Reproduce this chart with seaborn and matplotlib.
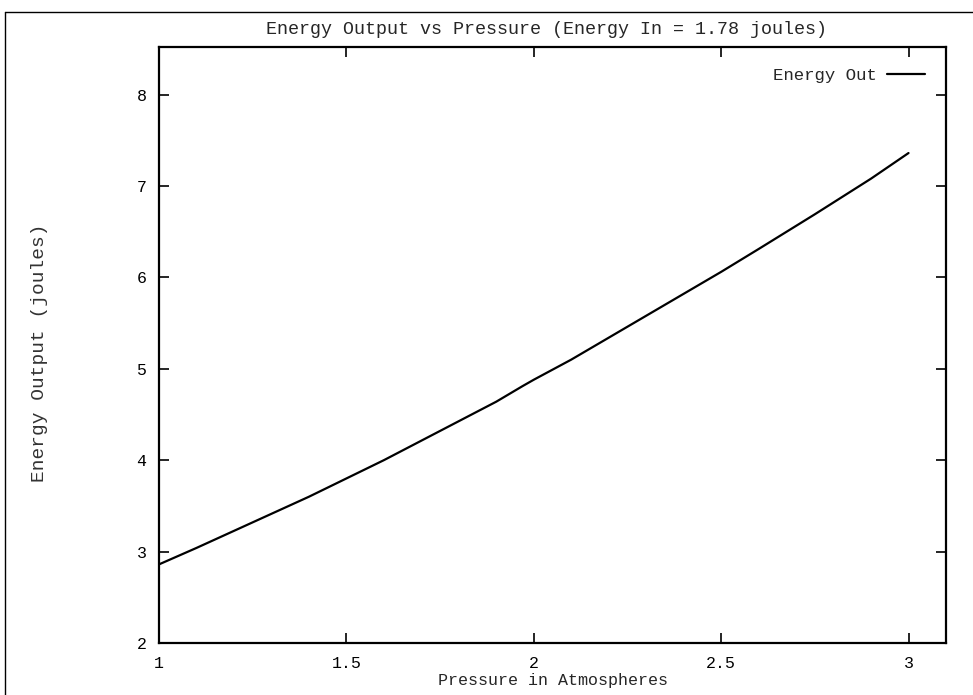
import matplotlib
matplotlib.use("Agg")
import matplotlib.pyplot as plt
import seaborn as sns
import pandas as pd
from matplotlib.lines import Line2D

pressure = [1.0, 1.1, 1.25, 1.4, 1.5, 1.6, 1.75, 1.9, 1.97, 2.0, 2.1, 2.25, 2.4, 2.5, 2.6, 2.75, 2.9, 3.0]
energy = [2.86, 3.04, 3.32, 3.60, 3.80, 4.00, 4.32, 4.64, 4.81, 4.88, 5.10, 5.46, 5.82, 6.06, 6.31, 6.69, 7.08, 7.36]
x_ticks = [1, 1.5, 2, 2.5, 3]
x_tick_labels = ["1", "1.5", "2", "2.5", "3"]
y_ticks = [2, 3, 4, 5, 6, 7, 8]
y_tick_labels = ["2", "3", "4", "5", "6", "7", "8"]
title = "Energy Output vs Pressure (Energy In = 1.78 joules)"
series_name = "Energy Out"

df = pd.DataFrame({"Pressure": pressure, "Energy": energy})

sns.set_style("ticks")
plt.rcParams["font.family"] = ["Liberation Mono", "DejaVu Sans Mono"]

fig = plt.figure(figsize=(9.73, 6.95), dpi=100)
ax = fig.add_axes([159/973, 1 - 643/695, (946-159)/973, (643-47)/695])

sns.lineplot(data=df, x="Pressure", y="Energy", color="black", linewidth=1.6,
             label=series_name, ax=ax)

ax.set_xlim(1, 3.1)
ax.set_ylim(2, 8.52)
ax.set_xticks(x_ticks)
ax.set_xticklabels(x_tick_labels)
ax.set_yticks(y_ticks)
ax.set_yticklabels(y_tick_labels)
ax.tick_params(direction="in", length=7, width=1.2, top=True, right=True,
               labelsize=12, colors="black")
ax.tick_params(axis="x", pad=9)
ax.tick_params(axis="y", pad=9)
for s in ax.spines.values():
    s.set_linewidth(1.6)
    s.set_color("black")

ax.set_xlabel("Pressure in Atmospheres", fontsize=12, labelpad=2)
ax.set_ylabel("")
fig.text(40/973, 1 - 353/695, "Energy Output (joules)", rotation=90,
         ha="center", va="center", fontsize=14, color="#333333")
fig.text(546/973, 1 - 30/695, title, ha="center", va="center", fontsize=13.2)

leg = ax.legend(loc="upper right", frameon=False, markerfirst=False,
                fontsize=12.5, handlelength=2.2, borderaxespad=0.8, handletextpad=0.6)

# outer page frame
fig.add_artist(Line2D([5/973, 5/973], [0, 1 - 12/695], transform=fig.transFigure,
                      color="black", linewidth=1.0))
fig.add_artist(Line2D([5/973, 1], [1 - 12/695, 1 - 12/695], transform=fig.transFigure,
                      color="black", linewidth=1.0))

fig.savefig("out.png", dpi=100, facecolor="white")
